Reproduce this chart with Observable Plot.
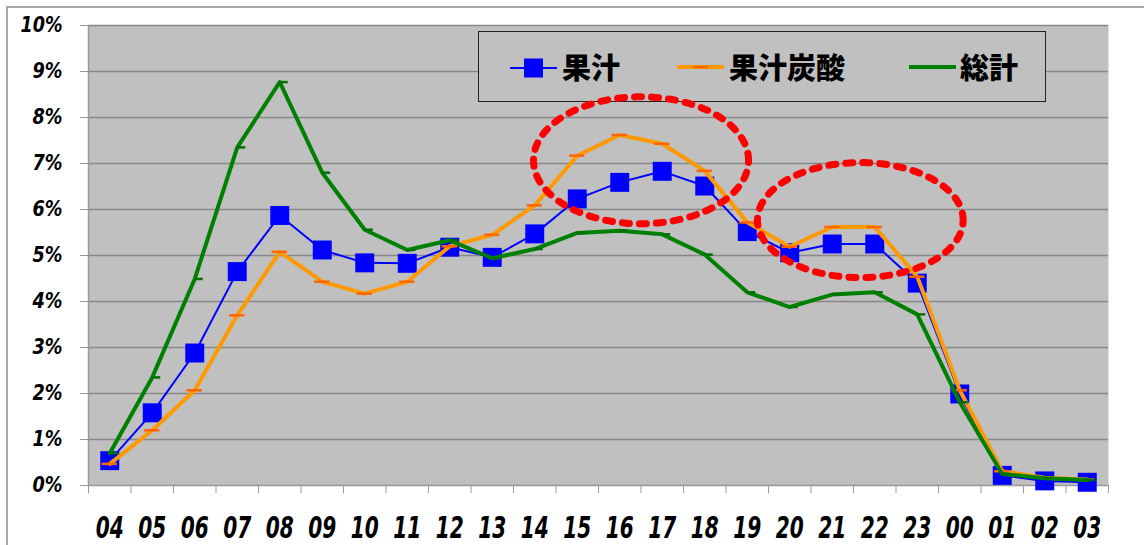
<!DOCTYPE html>
<html>
<head>
<meta charset="utf-8">
<script src="https://cdn.jsdelivr.net/npm/d3@7"></script>
<script src="https://cdn.jsdelivr.net/npm/@observablehq/plot@0.6"></script>
<style>
  body { margin: 0; background: #fff; }
  #wrap { position: relative; width: 1144px; height: 545px; overflow: hidden; background: #fff; }
  #frame { position: absolute; left: 6px; top: 6px; width: 1200px; height: 600px; border: 2px solid #a6a6a6; box-sizing: border-box; }
  #chart, #overlay { position: absolute; left: 0; top: 0; }
  #overlay { pointer-events: none; }
  #legend { position: absolute; left: 478px; top: 31px; width: 568px; height: 71px; border: 1px solid #222; background: #C0C0C0; box-sizing: border-box; }
  .lg-text { position: absolute; font-family: "Noto Sans CJK JP", sans-serif; font-weight: 900; font-size: 29px; line-height: 29px; color: #000; }
  .lg-sw { position: absolute; }
</style>
</head>
<body>
<div id="wrap">
  <div id="frame"></div>
  <div id="chart"></div>
  <div id="legend"></div>
  <div id="overlay"></div>
</div>
<script>
// ---- data ----
const hours = ["04","05","06","07","08","09","10","11","12","13","14","15","16","17","18","19","20","21","22","23","00","01","02","03"];
const juice     = [0.54,1.58,2.88,4.65,5.87,5.12,4.84,4.83,5.18,4.96,5.47,6.23,6.59,6.83,6.51,5.52,5.06,5.25,5.25,4.40,1.99,0.22,0.10,0.07];
const juiceSoda = [0.47,1.20,2.07,3.70,5.08,4.43,4.17,4.43,5.20,5.45,6.09,7.17,7.62,7.43,6.84,5.72,5.19,5.62,5.62,4.54,2.07,0.31,0.17,0.13];
const total     = [0.70,2.35,4.49,7.35,8.77,6.80,5.56,5.12,5.33,4.94,5.14,5.49,5.54,5.46,5.02,4.20,3.88,4.15,4.20,3.72,1.81,0.25,0.16,0.12];
const seriesNames = ["果汁","果汁炭酸","総計"];
const yTicks = [0,1,2,3,4,5,6,7,8,9,10];
// highlight ellipses (center in hour-index / percent units, radii likewise)
const highlights = [
  {cx: 12.5, cy: 7.07, rx: 2.53, ry: 1.38},
  {cx: 17.66, cy: 5.77, rx: 2.42, ry: 1.25}
];

// ---- build tables ----
const rows = (arr) => arr.map((v, i) => ({i, v}));
const dJuice = rows(juice), dSoda = rows(juiceSoda), dTotal = rows(total);
const ellipsePts = highlights.flatMap((h, k) =>
  d3.range(0, 361, 2).map(a => ({k, ex: h.cx + h.rx * Math.cos(a * Math.PI / 180), ey: h.cy + h.ry * Math.sin(a * Math.PI / 180)}))
);

const axisFont = '"DejaVu Sans Condensed", "DejaVu Sans", sans-serif';
const makeOpts = () => ({
  width: 1144,
  height: 545,
  marginLeft: 88,
  marginRight: 36,
  marginTop: 25,
  marginBottom: 60,
  x: {type: "linear", domain: [-0.5, 23.5], axis: null, label: null},
  y: {domain: [0, 10], axis: null, label: null}
});

const chart = Plot.plot({
  ...makeOpts(),
  style: {background: "transparent", overflow: "visible", fontFamily: axisFont, fontStyle: "italic", fontWeight: "bold"},
  marks: [
    Plot.frame({fill: "#C0C0C0", stroke: null}),
    Plot.gridY(yTicks.slice(1), {stroke: "#888", strokeOpacity: 1, strokeWidth: 1.5}),
    Plot.ruleX([-0.5], {stroke: "#999", strokeWidth: 1.5}),
    Plot.ruleY([0], {stroke: "#999", strokeWidth: 1.5}),
    Plot.axisY(yTicks, {tickSize: 8, tickPadding: 18, stroke: "#999", fill: "#000", label: null,
      tickFormat: d => d + "%", fontSize: 21, fontFamily: axisFont, fontStyle: "italic", fontWeight: "bold"}),
    Plot.axisX(d3.range(-0.5, 24, 1), {tickSize: 8, stroke: "#999", label: null, tickFormat: () => ""}),
    Plot.axisX(d3.range(24), {tickSize: 0, tickPadding: 30, fill: "#000", label: null,
      tickFormat: i => hours[i], fontSize: 31, fontFamily: axisFont, fontStyle: "italic", fontWeight: "bold"}),
    // 果汁
    Plot.line(dJuice, {x: "i", y: "v", stroke: "#0000FF", strokeWidth: 2}),
    Plot.dot(dJuice, {x: "i", y: "v", symbol: "square", r: 10.7, fill: "#0000FF", stroke: null}),
    // 果汁炭酸
    Plot.line(dSoda, {x: "i", y: "v", stroke: "#FF9900", strokeWidth: 4}),
    Plot.ruleY(dSoda, {y: "v", x1: d => d.i - 0.18, x2: d => d.i + 0.18, stroke: "#FF6600", strokeWidth: 2.5}),
    // 総計
    Plot.line(dTotal, {x: "i", y: "v", stroke: "#008000", strokeWidth: 4}),
    Plot.ruleY(dTotal, {y: "v", x1: d => d.i, x2: d => d.i + 0.2, stroke: "#007000", strokeWidth: 2.5})
  ]
});
document.getElementById("chart").appendChild(chart);

// highlight ellipses drawn on top of everything (incl. legend box)
const overlay = Plot.plot({
  ...makeOpts(),
  style: {background: "transparent", overflow: "visible"},
  marks: [
    Plot.line(ellipsePts, {x: "ex", y: "ey", z: "k", stroke: "#FF0000", strokeWidth: 7, strokeDasharray: "7,10", curve: "linear"})
  ]
});
document.getElementById("overlay").appendChild(overlay);

// condense the axis labels (heavy condensed face in the original)
chart.querySelectorAll('g[aria-label="x-axis tick label"] text').forEach(t => {
  const s = t.textContent;
  if (s) { t.setAttribute("textLength", s.length * 14); t.setAttribute("lengthAdjust", "spacingAndGlyphs"); }
});
chart.querySelectorAll('g[aria-label="y-axis tick label"] text').forEach(t => {
  const s = t.textContent;
  if (s) { t.setAttribute("textLength", (s.length - 1) * 12 + 18); t.setAttribute("lengthAdjust", "spacingAndGlyphs"); }
});

// ---- legend ----
const legend = document.getElementById("legend");
const lgItems = [
  {name: seriesNames[0], x: 509, tx: 561, kind: "juice"},
  {name: seriesNames[1], x: 676, tx: 728, kind: "soda"},
  {name: seriesNames[2], x: 908, tx: 959, kind: "total"}
];
for (const it of lgItems) {
  const sw = document.createElementNS("http://www.w3.org/2000/svg", "svg");
  sw.setAttribute("width", 48); sw.setAttribute("height", 24);
  sw.setAttribute("class", "lg-sw");
  sw.style.left = (it.x - 478) + "px"; sw.style.top = "23px";
  let inner = "";
  if (it.kind === "juice") {
    inner = '<line x1="0" x2="47" y1="13" y2="13" stroke="#0000FF" stroke-width="2"/><rect x="14" y="3.5" width="19" height="19" fill="#0000FF"/>';
  } else if (it.kind === "soda") {
    inner = '<line x1="0" x2="47" y1="12" y2="12" stroke="#FF9900" stroke-width="4"/><line x1="16" x2="31" y1="12" y2="12" stroke="#FF6600" stroke-width="2.5"/>';
  } else {
    inner = '<line x1="0" x2="47" y1="12" y2="12" stroke="#008000" stroke-width="4"/>';
  }
  sw.innerHTML = inner;
  legend.appendChild(sw);
  const t = document.createElement("div");
  t.className = "lg-text";
  t.textContent = it.name;
  t.style.left = (it.tx - 478) + "px";
  t.style.top = "20px";
  legend.appendChild(t);
}
</script>
</body>
</html>
